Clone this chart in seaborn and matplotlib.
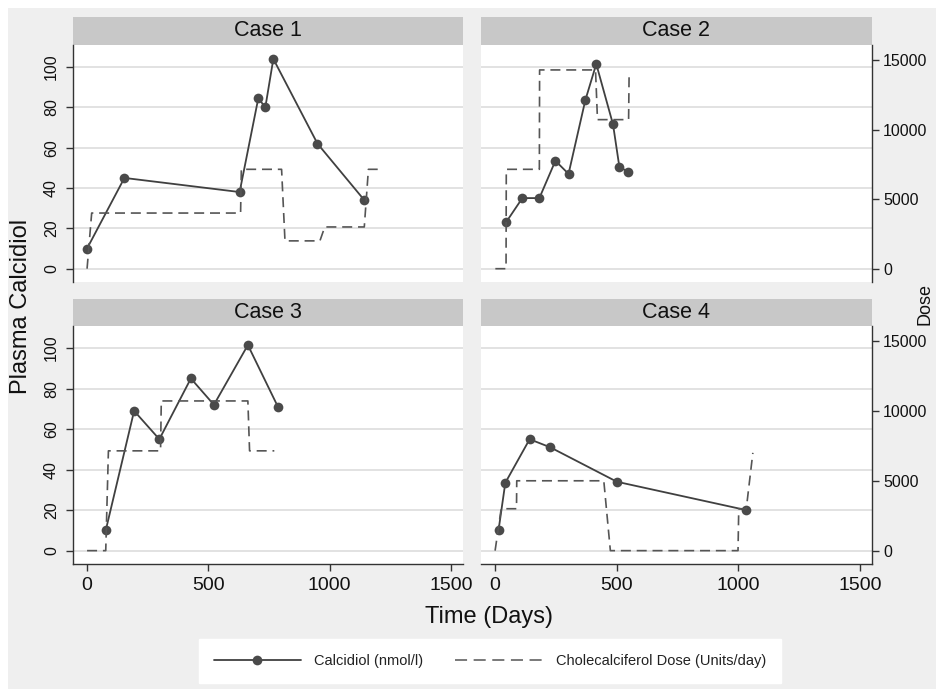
import matplotlib
matplotlib.use("Agg")
import matplotlib.pyplot as plt
from matplotlib import font_manager
from matplotlib.lines import Line2D
from matplotlib.patches import Rectangle
import pandas as pd
import seaborn as sns

# ---------------------------------------------------------------
# Values
# ---------------------------------------------------------------
case_names = ["Case 1", "Case 2", "Case 3", "Case 4"]

case1_day = [0, 154, 629, 706, 735, 768, 950, 1143]
case1_calc = [10, 45, 38, 84.5, 80, 104, 62, 34]
case1_dose_day = [0, 19, 633, 636, 802, 816, 960, 980, 1143, 1160, 1200]
case1_dose = [0, 4000, 4000, 7143, 7143, 2000, 2000, 3000, 3000, 7143, 7143]

case2_day = [45, 112, 182, 248, 302, 371, 416, 485, 511, 547]
case2_calc = [23, 35, 35, 53.5, 47, 83.5, 101.5, 71.5, 50.5, 48]
case2_dose_day = [1, 45, 46, 182, 183, 413, 421, 549, 551]
case2_dose = [0, 0, 7143, 7143, 14286, 14286, 10714, 10714, 13800]

case3_day = [77, 194, 298, 428, 523, 663, 787]
case3_calc = [10, 69, 55, 85, 72, 101.5, 71]
case3_dose_day = [0, 77, 88, 303, 306, 663, 670, 772]
case3_dose = [0, 0, 7143, 7143, 10714, 10714, 7143, 7143]

case4_day = [14, 42, 142, 227, 501, 1033]
case4_calc = [10, 33.5, 55, 51, 34, 20]
case4_dose_day = [0, 25, 88, 89, 447, 474, 999, 1002, 1033, 1060]
case4_dose = [0, 3000, 3000, 5000, 5000, 0, 0, 3000, 3000, 7000]

calc_ticks = [0, 20, 40, 60, 80, 100]
dose_ticks = [0, 5000, 10000, 15000]
day_ticks = [0, 500, 1000, 1500]

legend_labels = ["Calcidiol (nmol/l)", "Cholecalciferol Dose (Units/day)"]

# ---------------------------------------------------------------
sns.set_theme(style="white")
plt.rcParams["font.family"] = ["Liberation Sans", "DejaVu Sans"]

W, H = 937, 689


def box(x0, y0, x1, y1):
    # pixel box (top-left origin) -> figure fraction rect
    return [x0 / W, 1 - y1 / H, (x1 - x0) / W, (y1 - y0) / H]


try:
    font_manager.findfont("Liberation Sans Narrow", fallback_to_default=False)
    legend_font = font_manager.FontProperties(family="Liberation Sans Narrow", size=12.5)
    handle_len = 5.0
except Exception:
    legend_font = font_manager.FontProperties(family="Liberation Sans", size=10.5)
    handle_len = 6.0

CALC_COLOR = "#404040"
DOSE_COLOR = "#555555"
AXIS_COLOR = "#333333"
DASH = (0, (6, 3.5))

fig = plt.figure(figsize=(W / 100, H / 100), dpi=100, facecolor="white")
fig.add_artist(Rectangle((8 / W, 0), 1, 1 - 8 / H, transform=fig.transFigure,
                         facecolor="#efefef", edgecolor="none", zorder=-10))

series = [
    (case1_day, case1_calc, case1_dose_day, case1_dose),
    (case2_day, case2_calc, case2_dose_day, case2_dose),
    (case3_day, case3_calc, case3_dose_day, case3_dose),
    (case4_day, case4_calc, case4_dose_day, case4_dose),
]
col_x = [(73, 463), (481, 872)]
row_y = [(17, 45, 282), (299, 326, 564)]

for i, (name, (days, calc, dose_days, dose)) in enumerate(zip(case_names, series)):
    row, col = divmod(i, 2)
    x0, x1 = col_x[col]
    s0, p0, p1 = row_y[row]

    strip = fig.add_axes(box(x0, s0, x1, p0))
    strip.set_facecolor("#c8c8c8")
    strip.set_xticks([])
    strip.set_yticks([])
    for sp in strip.spines.values():
        sp.set_visible(False)
    strip.text(0.5, 0.5, name, ha="center", va="center", fontsize=15.5,
               color="#111111", transform=strip.transAxes)

    ax = fig.add_axes(box(x0, p0, x1, p1))
    ax.set_facecolor("white")
    df_calc = pd.DataFrame({"day": days, "calcidiol": calc})
    sns.lineplot(data=df_calc, x="day", y="calcidiol", ax=ax, color=CALC_COLOR,
                 lw=1.3, marker="o", markersize=7, markeredgewidth=0,
                 markerfacecolor="#4a4a4a", estimator=None, sort=False)

    ax2 = ax.twinx()
    df_dose = pd.DataFrame({"day": dose_days, "dose": dose})
    sns.lineplot(data=df_dose, x="day", y="dose", ax=ax2, color=DOSE_COLOR,
                 lw=1.2, linestyle=DASH, estimator=None, sort=False)

    ax.set_xlim(-58, 1550)
    ax.set_ylim(-6.6, 110.9)
    ax2.set_ylim(-956, 16078)
    ax.set_xticks(day_ticks)
    ax.set_yticks(calc_ticks)
    ax2.set_yticks(dose_ticks)
    ax.set_xlabel("")
    ax.set_ylabel("")
    ax2.set_ylabel("")

    ax.yaxis.grid(True, color="#e2e2e2", lw=1.4)
    ax.xaxis.grid(False)
    ax.set_axisbelow(True)

    for sp in list(ax.spines.values()) + list(ax2.spines.values()):
        sp.set_visible(False)
        sp.set_color(AXIS_COLOR)
        sp.set_linewidth(1.0)

    tick_kw = dict(length=5, width=1.0, color=AXIS_COLOR, labelcolor="#111111")
    if col == 0:
        ax.spines["left"].set_visible(True)
        ax.tick_params(axis="y", left=True, labelleft=True, labelsize=11.5, pad=5, **tick_kw)
        for lab in ax.get_yticklabels():
            lab.set_rotation(90)
            lab.set_va("center")
        ax2.tick_params(axis="y", right=False, labelright=False)
    else:
        ax2.spines["right"].set_visible(True)
        ax2.tick_params(axis="y", right=True, labelright=True, labelsize=11.5, pad=3, **tick_kw)
        ax.tick_params(axis="y", left=False, labelleft=False)

    if row == 1:
        ax.spines["bottom"].set_visible(True)
        ax.tick_params(axis="x", bottom=True, labelbottom=True, labelsize=14, pad=4, **tick_kw)
    else:
        ax.tick_params(axis="x", bottom=False, labelbottom=False)
    ax2.tick_params(axis="x", bottom=False, labelbottom=False)

fig.text(21 / W, 1 - 306 / H, "Plasma Calcidiol", rotation=90, fontsize=17,
         ha="center", va="center", color="#111111")
fig.text(925 / W, 1 - 304 / H, "Dose", rotation=90, fontsize=13,
         ha="center", va="center", color="#111111")
fig.text(489 / W, 1 - 617 / H, "Time (Days)", fontsize=17,
         ha="center", va="center", color="#111111")

handles = [
    Line2D([], [], color=CALC_COLOR, lw=1.3, marker="o", markersize=7,
           markeredgewidth=0, markerfacecolor="#4a4a4a"),
    Line2D([], [], color=DOSE_COLOR, lw=1.1, linestyle=(0, (7.9, 4.3))),
]
leg = fig.legend(handles, legend_labels, loc="center",
                 bbox_to_anchor=(490 / W, 1 - 661 / H), ncol=2, frameon=True,
                 fancybox=False, facecolor="white", edgecolor="white",
                 framealpha=1, prop=legend_font, handlelength=handle_len,
                 handletextpad=0.9, columnspacing=2.2, borderpad=1.0,
                 numpoints=1)
for t in leg.get_texts():
    t.set_color("#222222")

fig.savefig("out.png", dpi=100, facecolor=fig.get_facecolor())
